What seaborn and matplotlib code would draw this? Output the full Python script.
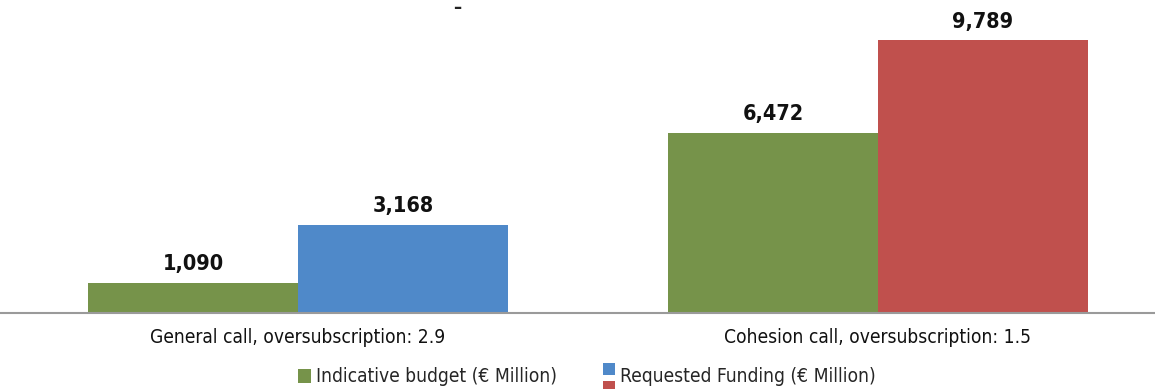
import matplotlib
matplotlib.use("Agg")
import matplotlib.pyplot as plt
import matplotlib.patches as mpatches
import seaborn as sns
import pandas as pd

categories = ["General call, oversubscription: 2.9", "Cohesion call, oversubscription: 1.5"]
series = ["Indicative budget (€ Million)", "Requested Funding (€ Million)"]
budget = [1090, 6472]
requested = [3168, 9789]

GREEN = "#76934a"
BLUE = "#4f89c9"
RED = "#c0504d"

sns.set_theme(style="white")
plt.rcParams["font.family"] = ["DejaVu Sans"]
plt.rcParams["font.stretch"] = "condensed"

df = pd.DataFrame({
    "call": categories * 2,
    "series": [series[0]] * 2 + [series[1]] * 2,
    "value": budget + requested,
})

fig = plt.figure(figsize=(11.55, 3.89), dpi=100)
ax = fig.add_axes([0, 76 / 389, 1, 313 / 389])
sns.barplot(data=df, x="call", y="value", hue="series", order=categories,
            hue_order=series, palette=[GREEN, BLUE], width=0.724,
            saturation=1, ax=ax, legend=False)

# second group's requested bar is red
ax.containers[1][1].set_facecolor(RED)
for p in ax.patches:
    p.set_edgecolor("none")

for c in ax.containers:
    ax.bar_label(c, labels=[f"{v:,.0f}" for v in c.datavalues], padding=6,
                 fontsize=15.5, fontweight="bold", color="#111111",
                 fontstretch="condensed")

ax.set_xlim(-298 / 580, (1155 - 298) / 580)
ax.set_ylim(0, 9789 * 313 / 273)
for s in ["top", "right", "left"]:
    ax.spines[s].set_visible(False)
ax.spines["bottom"].set_color("#9a9a9a")
ax.spines["bottom"].set_linewidth(1.5)
ax.set_yticks([])
ax.set_xlabel("")
ax.set_ylabel("")
ax.tick_params(axis="x", length=0, pad=10.5, labelsize=13.8, labelcolor="#111111")
for t in ax.get_xticklabels():
    t.set_fontstretch("condensed")


class SplitHandler:
    def legend_artist(self, legend, orig_handle, fontsize, handlebox):
        x0, y0 = handlebox.xdescent, handlebox.ydescent
        w, h = handlebox.width, handlebox.height
        top = mpatches.Rectangle((x0, y0 + h * 0.5), w, h * 0.9, facecolor=BLUE,
                                 edgecolor="none", transform=handlebox.get_transform())
        bot = mpatches.Rectangle((x0, y0 - h * 0.7), w, h * 0.75, facecolor=RED,
                                 edgecolor="none", transform=handlebox.get_transform())
        handlebox.add_artist(top)
        handlebox.add_artist(bot)
        return top


h1 = mpatches.Patch(facecolor=GREEN, edgecolor="none")
h2 = mpatches.Patch(facecolor=BLUE, edgecolor="none")
fig.legend([h1, h2], series, loc="center", bbox_to_anchor=(587 / 1155, 1 - 377 / 389),
           ncol=2, frameon=False, handlelength=0.65, handleheight=0.75,
           handletextpad=0.25, columnspacing=2.4,
           handler_map={h2: SplitHandler()},
           prop={"size": 13.8, "stretch": "condensed", "family": "DejaVu Sans"})

fig.text(457 / 1155, 1 - 8 / 389, "–", ha="center", va="center", fontsize=13,
         fontweight="bold", color="#222222")

fig.savefig("out.png", dpi=100, facecolor="white")
